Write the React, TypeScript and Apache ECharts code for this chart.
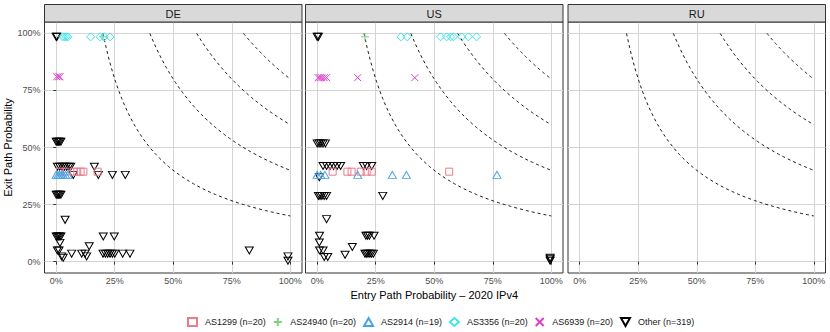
import React, { useEffect, useRef } from "react";
import * as echarts from "echarts";

const panels = ["DE", "US", "RU"];
const groupNames = [
  "AS1299 (n=20)",
  "AS24940 (n=20)",
  "AS2914 (n=19)",
  "AS3356 (n=20)",
  "AS6939 (n=20)",
  "Other (n=319)",
];
const tickValues = [0, 0.25, 0.5, 0.75, 1];
const curveLevels = [0.2, 0.4, 0.6, 0.8];
const xTitle = "Entry Path Probability – 2020 IPv4";
const yTitle = "Exit Path Probability";

// DE panel
const deAS1299 = [[0.016, 0.394], [0.04, 0.394], [0.076, 0.394], [0.09, 0.394], [0.104, 0.394], [0.116, 0.394], [0.177, 0.394]];
const deAS24940 = [[0.2, 0.985]];
const deAS2914 = [[0, 0.38], [0.008, 0.38], [0.015, 0.38], [0.022, 0.38], [0.03, 0.38], [0.04, 0.38], [0.05, 0.38]];
const deAS3356 = [[0.027, 0.985], [0.035, 0.985], [0.043, 0.985], [0.05, 0.985], [0.147, 0.985], [0.187, 0.985], [0.205, 0.985], [0.23, 0.985]];
const deAS6939 = [[0.002, 0.81], [0.01, 0.81], [0.016, 0.81]];
const deOther = [
  [0, 0.985], [0.003, 0.985],
  [0, 0.525], [0.005, 0.525], [0.01, 0.525], [0.015, 0.525], [0.02, 0.525],
  [0.005, 0.416], [0.015, 0.416], [0.025, 0.416], [0.035, 0.416], [0.045, 0.416], [0.055, 0.416], [0.062, 0.416], [0.163, 0.416],
  [0.073, 0.38], [0.18, 0.38], [0.24, 0.38], [0.295, 0.38],
  [0, 0.293], [0.005, 0.293], [0.01, 0.293], [0.015, 0.293], [0.02, 0.293],
  [0.038, 0.183],
  [0, 0.11], [0.005, 0.11], [0.01, 0.11], [0.015, 0.11], [0.02, 0.11], [0.201, 0.11], [0.248, 0.11],
  [0.016, 0.082], [0.141, 0.067],
  [0.005, 0.049], [0.012, 0.049], [0.825, 0.049],
  [0.066, 0.035], [0.109, 0.035], [0.123, 0.035], [0.2, 0.035], [0.21, 0.035], [0.22, 0.035], [0.23, 0.035], [0.24, 0.035], [0.25, 0.035], [0.284, 0.035], [0.315, 0.035],
  [0.023, 0.023], [0.13, 0.023], [0.03, 0.017],
  [0.99, 0.023], [0.99, 0.004],
];

// US panel
const usAS1299 = [[0.066, 0.394], [0.129, 0.394], [0.147, 0.394], [0.186, 0.394], [0.211, 0.394], [0.233, 0.394], [0.564, 0.394]];
const usAS24940 = [[0.204, 0.985]];
const usAS2914 = [[0, 0.38], [0.015, 0.38], [0.033, 0.38], [0.173, 0.38], [0.321, 0.38], [0.381, 0.38], [0.768, 0.38]];
const usAS3356 = [[0.358, 0.985], [0.385, 0.985], [0.527, 0.985], [0.553, 0.985], [0.57, 0.985], [0.582, 0.985], [0.617, 0.985], [0.646, 0.985], [0.681, 0.985]];
const usAS6939 = [[0.004, 0.806], [0.012, 0.806], [0.02, 0.806], [0.03, 0.806], [0.04, 0.806], [0.173, 0.806], [0.417, 0.806]];
const usOther = [
  [0, 0.985], [0.005, 0.985],
  [0, 0.518], [0.008, 0.518], [0.016, 0.518], [0.025, 0.518], [0.035, 0.518],
  [0.025, 0.419], [0.04, 0.419], [0.055, 0.419], [0.07, 0.419], [0.085, 0.419], [0.1, 0.419], [0.197, 0.419], [0.211, 0.419], [0.233, 0.419],
  [0.009, 0.37],
  [0.005, 0.288], [0.012, 0.288], [0.02, 0.288], [0.03, 0.288], [0.04, 0.288], [0.28, 0.288],
  [0.04, 0.186],
  [0.01, 0.113], [0.208, 0.113], [0.215, 0.113], [0.223, 0.113], [0.243, 0.113],
  [0.009, 0.084], [0.15, 0.064],
  [0.01, 0.049], [0.025, 0.049],
  [0.119, 0.03],
  [0.204, 0.035], [0.21, 0.035], [0.217, 0.035], [0.225, 0.035], [0.232, 0.035], [0.24, 0.035],
  [0.03, 0.02], [0.045, 0.02],
  [0.995, 0.017], [0.995, 0.01], [0.995, 0.004],
];

const panelData: Record<string, number[][][]> = {
  DE: [deAS1299, deAS24940, deAS2914, deAS3356, deAS6939, deOther],
  US: [usAS1299, usAS24940, usAS2914, usAS3356, usAS6939, usOther],
  RU: [[], [], [], [], [], []],
};

const groupColors = ["#ea7a8c", "#7fd07f", "#4aa3e6", "#3fe3ea", "#dc3fcf", "#000000"];
const groupSymbols = [
  "rect",
  "path://M5,0L5,10M0,5L10,5",
  "path://M5,0L10,8.66L0,8.66Z",
  "diamond",
  "path://M0,0L10,10M10,0L0,10",
  "path://M0,0L10,0L5,8.66Z",
];
const groupSizes: any[] = [7, 8, [8, 7], 8, 7, [8, 7]];

const FONT = "'Liberation Sans', Arial, Helvetica, sans-serif";
const gridLefts = [44.5, 305.5, 568];
const gridW = 257.5;
const gridTop = 22;
const gridH = 251;

export default function App() {
  const ref = useRef<HTMLDivElement>(null);
  useEffect(() => {
    if (!ref.current) return;
    const chart = echarts.init(ref.current, undefined, { renderer: "svg" });

    const grids = gridLefts.map((l) => ({
      left: l,
      top: gridTop,
      width: gridW,
      height: gridH,
      show: true,
      borderColor: "#333333",
      borderWidth: 1,
      backgroundColor: "#ffffff",
      containLabel: false,
    }));

    const xAxes = panels.map((p, i) => ({
      type: "value",
      gridIndex: i,
      min: -0.05,
      max: 1.05,
      axisLine: { show: false },
      axisTick: { show: true, customValues: tickValues, length: 3, lineStyle: { color: "#333333", width: 1 } },
      axisLabel: {
        customValues: tickValues,
        formatter: (v: number) => Math.round(v * 100) + "%",
        color: "#4d4d4d",
        fontSize: 9,
        fontFamily: FONT,
        margin: 3,
      },
      splitLine: { show: true, lineStyle: { color: "#d4d4d4", width: 1 } },
      name: i === 1 ? xTitle : "",
      nameLocation: "middle",
      nameGap: 13,
      nameTextStyle: { color: "#000000", fontSize: 11, fontFamily: FONT, verticalAlign: "top" },
    }));

    const yAxes = panels.map((p, i) => ({
      type: "value",
      gridIndex: i,
      min: -0.05,
      max: 1.05,
      axisLine: { show: false },
      axisTick: { show: i === 0, customValues: tickValues, length: 3, lineStyle: { color: "#333333", width: 1 } },
      axisLabel: {
        show: i === 0,
        customValues: tickValues,
        formatter: (v: number) => Math.round(v * 100) + "%",
        color: "#4d4d4d",
        fontSize: 9,
        fontFamily: FONT,
        margin: 4,
      },
      splitLine: { show: true, lineStyle: { color: "#d4d4d4", width: 1 } },
      name: i === 0 ? yTitle : "",
      nameLocation: "middle",
      nameGap: 31,
      nameRotate: 90,
      nameTextStyle: { color: "#000000", fontSize: 11, fontFamily: FONT },
    }));

    const series: any[] = [];
    panels.forEach((p, pi) => {
      curveLevels.forEach((c) => {
        const pts: number[][] = [];
        const n = 60;
        for (let k = 0; k <= n; k++) {
          const x = c + ((1 - c) * k) / n;
          pts.push([x, c / x]);
        }
        series.push({
          type: "line",
          xAxisIndex: pi,
          yAxisIndex: pi,
          data: pts,
          showSymbol: false,
          symbol: "none",
          silent: true,
          smooth: false,
          z: 1,
          lineStyle: { color: "#000000", width: 0.9, type: [3, 3] },
        });
      });
    });
    const order = [5, 0, 1, 2, 3, 4];
    panels.forEach((p, pi) => {
      order.forEach((gi) => {
        series.push({
          type: "scatter",
          name: groupNames[gi],
          xAxisIndex: pi,
          yAxisIndex: pi,
          data: panelData[p][gi],
          symbol: groupSymbols[gi],
          symbolSize: groupSizes[gi],
          z: 3,
          itemStyle: { color: "transparent", borderColor: groupColors[gi], borderWidth: 1, opacity: 1 },
        });
      });
    });

    const graphic: any[] = [];
    panels.forEach((p, i) => {
      graphic.push({
        type: "rect",
        shape: { x: gridLefts[i], y: 4.5, width: gridW, height: 17.5 },
        style: { fill: "#d9d9d9", stroke: "#333333", lineWidth: 1 },
        z: 10,
      });
      graphic.push({
        type: "text",
        x: gridLefts[i] + gridW / 2,
        y: 13.5,
        style: {
          text: p,
          fill: "#1a1a1a",
          font: `11px ${FONT}`,
          textAlign: "center",
          textVerticalAlign: "middle",
          verticalAlign: "middle",
        },
        z: 11,
      });
    });

    chart.setOption({
      animation: false,
      backgroundColor: "#ffffff",
      grid: grids,
      xAxis: xAxes,
      yAxis: yAxes,
      series,
      graphic,
      legend: {
        data: groupNames,
        left: 182,
        top: 312,
        orient: "horizontal",
        itemWidth: 9,
        itemHeight: 8,
        itemGap: 7,
        textStyle: { color: "#1a1a1a", fontSize: 9, fontFamily: FONT, padding: [0, 0, 0, 3] },
      },
    });
    return () => chart.dispose();
  }, []);
  return (
    <div
      ref={ref}
      style={{ position: "fixed", left: 0, top: 0, width: 830, height: 332 }}
    />
  );
}
